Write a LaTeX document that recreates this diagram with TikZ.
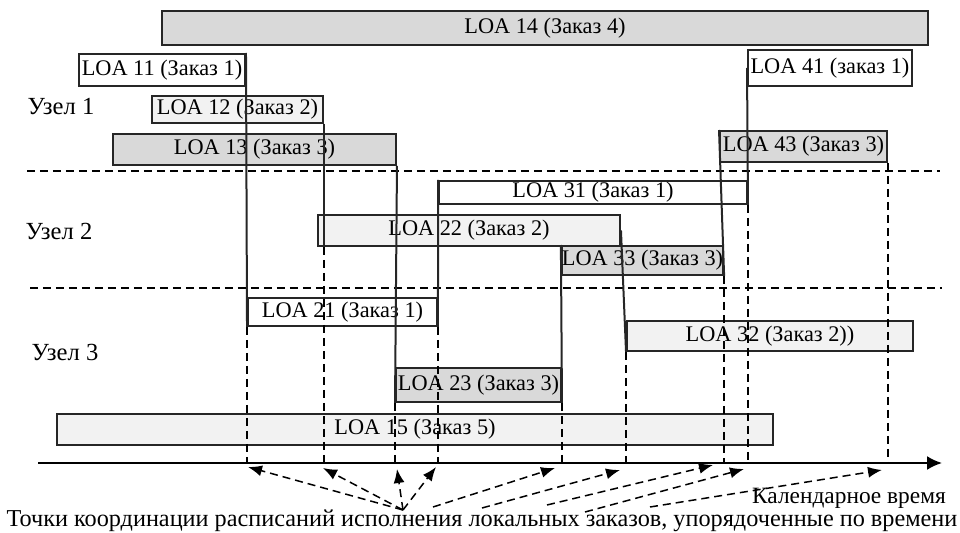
\documentclass[tikz,border=0pt]{standalone}
\usepackage{fontspec}
\setmainfont{Liberation Serif}
\usetikzlibrary{arrows.meta}
\tikzset{
	loabox/.style={draw=black!85, line width=0.4mm, inner sep=0pt, font=\fontsize{12.7}{14}\selectfont},
	fullgray/.style={loabox, fill=black!15},
	lightgray/.style={loabox, fill=black!5},
	nofill/.style={loabox, fill=white},
	link/.style={line width=0.4mm, color=black!85},
	drop/.style={line width=0.3mm, dash pattern=on 1.6mm off 1mm},
	hint/.style={line width=0.3mm, dash pattern=on 1.6mm off 1mm, -{Latex[length=2.8mm,width=2.2mm]}},
	plain/.style={font=\fontsize{13.3}{15}\selectfont, inner sep=0pt}
}

\begin{document}
\begin{tikzpicture}[x=0.02cm, y=-0.02cm]
			%%%%% START %%%%%
			\useasboundingbox (0, 0) rectangle (960, 533);
			
			% node separators
			\draw[drop] (27, 171) -- (940, 171);
			\draw[drop] (30, 288) -- (942, 288);
			
			% time axis
			\coordinate (axL) at (38, 463);
			\coordinate (axR) at (942, 463);
			\draw[line width=0.4mm, -{Latex[length=3mm,width=2.8mm]}] (axL) -- (axR);
			
			% local orders
			\node[fullgray, minimum width=15.32cm, minimum height=0.68cm] (loa14) at (545, 28) {LOA 14 (Заказ 4)};
			\node[nofill, minimum width=3.32cm, minimum height=0.64cm] (loa11) at (162, 70) {LOA 11 (Заказ 1)};
			\node[lightgray, minimum width=3.42cm, minimum height=0.54cm] (loa12) at (237.5, 109.5) {LOA 12 (Заказ 2)};
			\node[fullgray, minimum width=5.66cm, minimum height=0.62cm] (loa13) at (254.5, 149.5) {LOA 13 (Заказ 3)};
			\node[nofill, minimum width=3.28cm, minimum height=0.72cm] (loa41) at (830, 68) {LOA 41 (заказ 1)};
			\node[fullgray, minimum width=3.34cm, minimum height=0.62cm] (loa43) at (803.5, 146.5) {LOA 43 (Заказ 3)};
			
			\node[nofill, minimum width=6.16cm, minimum height=0.46cm] (loa31) at (593, 192.5) {LOA 31 (Заказ 1)};
			\node[lightgray, minimum width=6.04cm, minimum height=0.62cm] (loa22) at (469, 230.5) {LOA 22 (Заказ 2)};
			\node[fullgray, minimum width=3.22cm, minimum height=0.58cm] (loa33) at (642.5, 260.5) {LOA 33 (Заказ 3)};
			
			\node[nofill, minimum width=3.78cm, minimum height=0.56cm] (loa21) at (342.5, 312) {LOA 21 (Заказ 1)};
			\node[lightgray, minimum width=5.72cm, minimum height=0.60cm] (loa32) at (770, 336) {LOA 32 (Заказ 2))};
			\node[fullgray, minimum width=3.30cm, minimum height=0.68cm] (loa23) at (478.5, 385) {LOA 23 (Заказ 3)};
			\node[lightgray, minimum width=14.32cm, minimum height=0.62cm] (loa15) at (415, 429.5) {LOA 15 (Заказ 5)};
			
			% node labels
			\node[plain, font=\fontsize{14}{16}\selectfont] (uzel1) at (61, 107) {Узел 1};
			\node[plain, font=\fontsize{14}{16}\selectfont] (uzel2) at (59, 231) {Узел 2};
			\node[plain, font=\fontsize{14}{16}\selectfont] (uzel3) at (65, 352) {Узел 3};
			
			% hand-overs between nodes
			\coordinate (c12) at (loa12.south east |- loa22.south);
			\draw[link] (loa11.north east) -- (loa21.south west);
			\draw[link] (loa12.south east) -- (c12);
			\draw[link] (loa13.south east) -- (loa23.south west);
			\draw[link] (loa31.north west) -- (loa21.south east);
			\draw[link] (loa33.north west) -- (loa23.south east);
			\draw[link] (loa22.east) -- (loa32.south west);
			\draw[link] (loa43.north west) -- (loa33.south east);
			\draw[link] (loa41.west) -- (loa31.south east);
			
			% drops to the axis
			\foreach \p in {loa21.south west, c12, loa23.south west, loa21.south east, loa23.south east, loa32.south west, loa33.south east, loa31.south east, loa43.south east}
				\draw[drop] (\p) -- (\p |- axL);
			
			% coordination points
			\coordinate (s0) at (403, 510);
			\coordinate (s1) at (433, 507);
			\coordinate (s2) at (482, 508);
			\coordinate (s3) at (547, 505);
			\coordinate (s4) at (585, 512);
			\coordinate (s5) at (650, 507);
			\coordinate (t1) at (248, 467);
			\coordinate (t2) at (323, 468);
			\coordinate (t3) at (397, 469);
			\coordinate (t4) at (436, 467);
			\coordinate (t5) at (555, 468);
			\coordinate (t6) at (620, 470);
			\coordinate (t7) at (713, 465);
			\coordinate (t8) at (744, 469);
			\coordinate (t9) at (882, 470);
			\foreach \t in {t1, t2, t3, t4}
				\draw[hint] (s0) -- (\t);
			\draw[hint] (s1) -- (t5);
			\draw[hint] (s2) -- (t6);
			\draw[hint] (s3) -- (t7);
			\draw[hint] (s4) -- (t8);
			\draw[hint] (s5) -- (t9);
			
			\node[plain] (caltime) at (849, 498) {Календарное время};
			\node[plain, font=\fontsize{13.8}{16}\selectfont] (caption) at (482, 521) {Точки координации расписаний исполнения локальных заказов, упорядоченные по времени};
			%%%%% END %%%%%
		\end{tikzpicture}
\end{document}
